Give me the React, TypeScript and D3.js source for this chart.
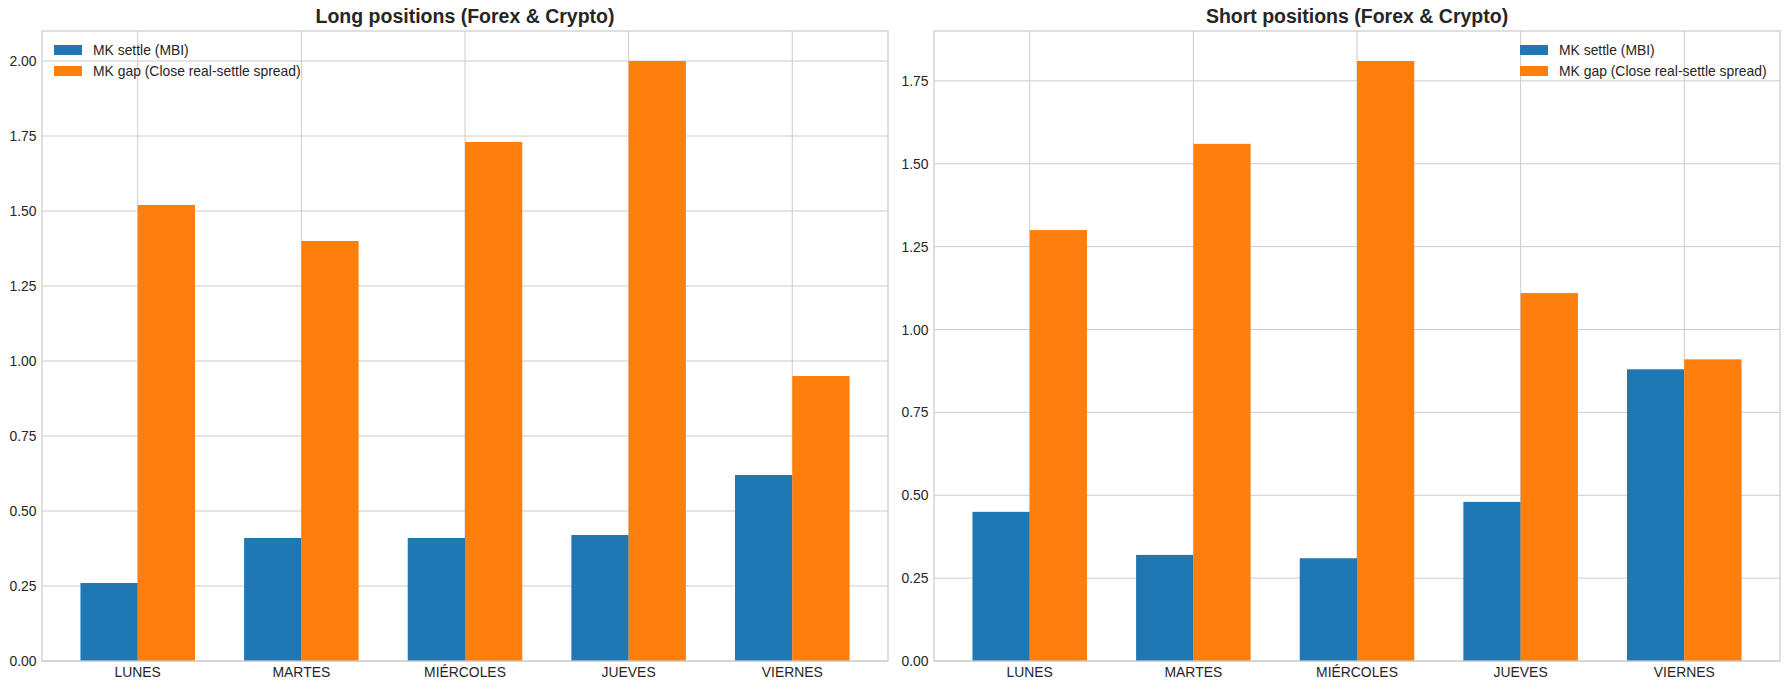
import * as d3 from "d3";

const days = ["LUNES", "MARTES", "MIÉRCOLES", "JUEVES", "VIERNES"];

const longSettle = [0.26, 0.41, 0.41, 0.42, 0.62];
const longGap = [1.52, 1.4, 1.73, 2.0, 0.95];
const shortSettle = [0.45, 0.32, 0.31, 0.48, 0.88];
const shortGap = [1.3, 1.56, 1.81, 1.11, 0.91];

const longTicks = [0, 0.25, 0.5, 0.75, 1.0, 1.25, 1.5, 1.75, 2.0];
const shortTicks = [0, 0.25, 0.5, 0.75, 1.0, 1.25, 1.5, 1.75];

const seriesNames = ["MK settle (MBI)", "MK gap (Close real-settle spread)"];
const BLUE = "#1f77b4";
const ORANGE = "#ff7f0e";
const GRID = "#cccccc";
const TEXT = "#262626";
const FONT = "'Liberation Sans', Arial, sans-serif";

const W = 1790;
const H = 690;
const top = 31;
const bottom = 661;

interface PanelProps {
  title: string;
  left: number;
  right: number;
  settle: number[];
  gap: number[];
  ticks: number[];
  legendRight: boolean;
}

function Panel({ title, left, right, settle, gap, ticks, legendRight }: PanelProps) {
  const barW = 0.35;
  const yMax = d3.max([...settle, ...gap]) ?? 1;
  const x = d3
    .scaleLinear()
    .domain([-0.35 - 0.235, days.length - 1 + 0.35 + 0.235])
    .range([left, right]);
  const y = d3.scaleLinear().domain([0, yMax * 1.05]).range([bottom, top]);
  const bw = x(barW) - x(0);

  const legX = legendRight ? 1520 : left + 12;
  const textX = legX + 39;

  return (
    <g>
      {/* grid */}
      {ticks.map((t) => (
        <line key={"h" + t} x1={left} x2={right} y1={y(t)} y2={y(t)} stroke={GRID} strokeWidth={1} />
      ))}
      {days.map((_d, i) => (
        <line key={"v" + i} x1={x(i)} x2={x(i)} y1={top} y2={bottom} stroke={GRID} strokeWidth={1} />
      ))}
      {/* bars */}
      {settle.map((v, i) => (
        <rect key={"s" + i} x={x(i - barW)} y={y(v)} width={bw} height={y(0) - y(v)} fill={BLUE} />
      ))}
      {gap.map((v, i) => (
        <rect key={"g" + i} x={x(i)} y={y(v)} width={bw} height={y(0) - y(v)} fill={ORANGE} />
      ))}
      {/* frame */}
      <rect x={left} y={top} width={right - left} height={bottom - top} fill="none" stroke={GRID} strokeWidth={1.25} />
      {/* y ticks */}
      {ticks.map((t) => (
        <text key={"yt" + t} x={left - 5.5} y={y(t) + 5} textAnchor="end" fontSize={13.9} fill={TEXT}>
          {t.toFixed(2)}
        </text>
      ))}
      {/* x ticks */}
      {days.map((d, i) => (
        <text key={"xt" + d} x={x(i)} y={bottom + 16} textAnchor="middle" fontSize={13.9} fill={TEXT}>
          {d}
        </text>
      ))}
      <text x={(left + right) / 2} y={23} textAnchor="middle" fontSize={19.5} fontWeight="bold" fill={TEXT}>
        {title}
      </text>
      {/* legend */}
      {seriesNames.map((name, i) => (
        <g key={name}>
          <rect x={legX} y={45 + i * 21} width={28} height={10} fill={i === 0 ? BLUE : ORANGE} />
          <text x={textX} y={55 + i * 21} fontSize={13.9} fill={TEXT}>
            {name}
          </text>
        </g>
      ))}
    </g>
  );
}

export default function App() {
  return (
    <svg
      width={W}
      height={H}
      style={{ position: "absolute", left: 0, top: 0, background: "#fff", fontFamily: FONT }}
    >
      <rect width={W} height={H} fill="#fff" />
      <Panel
        title="Long positions (Forex & Crypto)"
        left={42}
        right={888}
        settle={longSettle}
        gap={longGap}
        ticks={longTicks}
        legendRight={false}
      />
      <Panel
        title="Short positions (Forex & Crypto)"
        left={934}
        right={1780}
        settle={shortSettle}
        gap={shortGap}
        ticks={shortTicks}
        legendRight={true}
      />
    </svg>
  );
}
